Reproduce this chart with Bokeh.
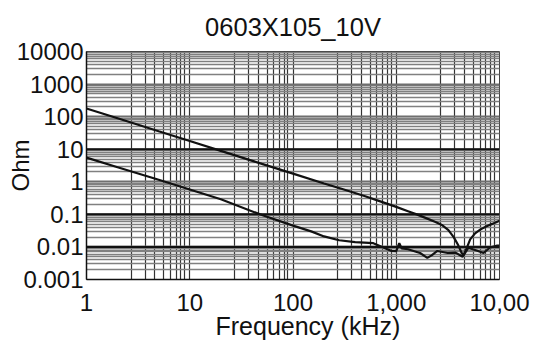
from bokeh.plotting import figure
from bokeh.models import FixedTicker, Range1d, Span, Title
from bokeh.embed import file_html
from bokeh.resources import INLINE

# ---- data ----
freq_upper = [1, 2, 5, 10, 20, 50, 100, 200, 300, 500, 700, 1000, 1300, 1600, 2000,
              2400, 2800, 3200, 3600, 4000, 4300, 4500, 4800, 5200, 5800, 6500, 7500, 8500, 10000]
z_upper = [178, 89, 35.5, 17.8, 8.9, 3.55, 1.78, 0.89, 0.6, 0.36, 0.25, 0.17, 0.125, 0.098, 0.074,
           0.058, 0.046, 0.033, 0.02, 0.011, 0.0065, 0.0058, 0.009, 0.017, 0.026, 0.034, 0.043, 0.051, 0.064]

freq_lower = [1, 2, 5, 10, 20, 50, 100, 150, 200, 280, 400, 600, 760, 900, 1000, 1070, 1130,
              1300, 1700, 2000, 2200, 2500, 3150, 3750, 4400, 5000, 5500, 6100, 7000, 8100, 9500, 10000]
z_lower = [5.5, 2.8, 1.15, 0.58, 0.29, 0.095, 0.045, 0.03, 0.021, 0.016, 0.014, 0.013, 0.0095, 0.0075,
           0.0074, 0.013, 0.009, 0.0085, 0.0065, 0.0046, 0.0055, 0.0075, 0.0065, 0.0067, 0.005, 0.0095,
           0.0085, 0.0076, 0.0065, 0.0096, 0.011, 0.011]

x_ticks = [1, 10, 100, 1000, 10000]
x_tick_labels = ["1", "10", "100", "1,000", "10,00"]
y_ticks = [0.001, 0.01, 0.1, 1, 10, 100, 1000, 10000]
y_tick_labels = ["0.001", "0.01", "0.1", "1", "10", "100", "1000", "10000"]
dark_gridlines = [10, 0.1, 0.01]

title_text = "0603X105_10V"
x_label = "Frequency (kHz)"
y_label = "Ohm"

FONT = "Liberation Sans"

# grid line factors within a decade (as drawn in the reference)
x_minor_factors = [2.7, 3.7, 4.6, 5.6, 6.5, 7.4, 8.2, 8.9]
y_minor_factors = [2, 3, 4, 5, 6, 7, 8, 9]
x_minor = [d * f for d in x_ticks[:-1] for f in x_minor_factors]
y_minor = [d * f for d in y_ticks[:-1] for f in y_minor_factors]

p = figure(width=540, height=342, x_axis_type="log", y_axis_type="log",
           x_range=Range1d(1, 10000), y_range=Range1d(0.001, 10000),
           output_backend="svg", toolbar_location=None,
           min_border_left=86, min_border_right=41, min_border_top=50, min_border_bottom=63)

p.title.text = title_text
p.title.align = "center"
p.title.text_font = FONT
p.title.text_font_size = "25.5px"
p.title.text_font_style = "normal"
p.title.text_color = "#111111"
p.title.standoff = 21

p.outline_line_color = "#444444"
p.background_fill_color = "white"
p.border_fill_color = "white"

xt = FixedTicker(ticks=x_ticks, minor_ticks=x_minor)
yt = FixedTicker(ticks=y_ticks, minor_ticks=y_minor)

for ax, tk, labels in ((p.xaxis[0], xt, x_tick_labels), (p.yaxis[0], yt, y_tick_labels)):
    ax.ticker = tk
    ax.major_label_overrides = {t: l for t, l in zip(tk.ticks, labels)}
    ax.major_label_text_font = FONT
    ax.major_label_text_font_size = "24px"
    ax.major_label_text_color = "#111111"
    ax.major_tick_out = 0
    ax.major_tick_in = 0
    ax.minor_tick_out = 0
    ax.minor_tick_in = 0
    ax.axis_line_color = "#111111"
    ax.axis_line_width = 1.5

p.xaxis.major_label_standoff = 14
p.yaxis.major_label_standoff = 3

p.yaxis.axis_label = y_label
p.yaxis.axis_label_text_font = FONT
p.yaxis.axis_label_text_font_size = "24px"
p.yaxis.axis_label_text_font_style = "normal"
p.yaxis.axis_label_text_color = "#111111"
p.yaxis.axis_label_standoff = -20

p.xgrid.ticker = xt
p.ygrid.ticker = yt
p.xgrid.grid_line_color = "#333333"
p.xgrid.minor_grid_line_color = "#333333"
p.xgrid.grid_line_width = 1.2
p.xgrid.minor_grid_line_width = 1.2
p.ygrid.grid_line_color = "#6f6f6f"
p.ygrid.grid_line_width = 2
p.ygrid.minor_grid_line_color = "#808080"
p.ygrid.minor_grid_line_width = 1.3

for v in dark_gridlines:
    p.add_layout(Span(location=v, dimension="width", line_color="#111111", line_width=2))

p.line(freq_upper, z_upper, line_color="#111111", line_width=2.2)
p.line(freq_lower, z_lower, line_color="#111111", line_width=2.2)

xlab = Title(text=x_label, align="left", offset=129, standoff=-8,
             text_font=FONT, text_font_size="25px", text_font_style="normal",
             text_color="#111111")
p.add_layout(xlab, "below")

open("out.html", "w").write(file_html(p, INLINE))
